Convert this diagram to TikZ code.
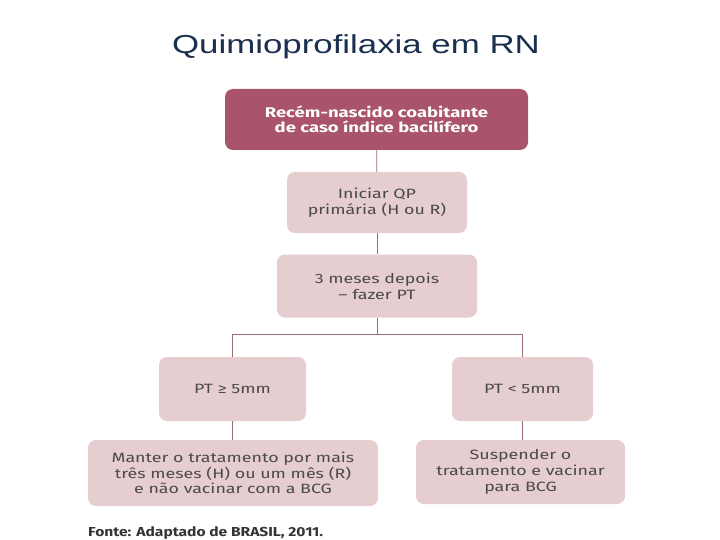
\documentclass[tikz,border=0pt]{standalone}
\usepackage{fontspec}
\setmainfont{Fira Sans}
\newfontfamily\titlefont[FakeStretch=1.34]{Liberation Sans}
\newfontfamily\boxfont[FakeStretch=1.32]{Fira Sans}
\newfontfamily\srcfont[FakeStretch=1.2]{Fira Sans}
\definecolor{darkrose}{HTML}{A9546A}
\definecolor{lightrose}{HTML}{E6CDD0}
\definecolor{linec}{HTML}{9C6B78}
\definecolor{textc}{HTML}{4A4A4A}
\definecolor{titlec}{HTML}{1B2F4F}
\begin{document}
\begin{tikzpicture}[x=1pt,y=-1pt,
  box/.style={draw=none,fill=lightrose,rounded corners=8pt,align=center,inner sep=0pt,
     text=textc,font=\boxfont\fontsize{13.5}{15.8}\selectfont},
  topbox/.style={box,fill=darkrose,text=white,font=\boxfont\fontsize{14}{15}\selectfont\bfseries},
  conn/.style={draw=linec,line width=0.8pt}]
\useasboundingbox (0,0) rectangle (720,540);
\node[font=\titlefont\fontsize{26}{30}\selectfont,text=titlec] (title) at (356,47) {Quimioprofilaxia em RN};
\node[topbox,minimum width=303pt,minimum height=61pt] (b1) at (376.5,119.5) {Recém-nascido coabitante\\de caso índice bacilífero};
\node[box,minimum width=180pt,minimum height=61pt] (b2) at (377,202.5) {Iniciar QP\\primária (H ou R)};
\node[box,minimum width=200pt,minimum height=63pt] (b3) at (377,286) {3 meses depois\\– fazer PT};
\node[box,minimum width=147pt,minimum height=64pt] (b4l) at (232.5,389) {PT ≥ 5mm};
\node[box,minimum width=141pt,minimum height=64pt] (b4r) at (522.5,389) {PT < 5mm};
\node[box,minimum width=290pt,minimum height=66pt] (b5l) at (233,473) {Manter o tratamento por mais\\três meses (H) ou um mês (R)\\e não vacinar com a BCG};
\node[box,minimum width=209pt,minimum height=64pt] (b5r) at (520.5,472) {Suspender o\\tratamento e vacinar\\para BCG};
\node[anchor=west,font=\srcfont\fontsize{13}{15}\selectfont\bfseries,text=textc!70!black,inner sep=0pt] (src) at (88,533) {Fonte: Adaptado de BRASIL, 2011.};
\coordinate (hj) at (377,334);
\coordinate (hl) at (232.5,334);
\coordinate (hr) at (522.5,334);
\draw[conn] (b1) -- (b2);
\draw[conn] (b2) -- (b3);
\draw[conn] (b3) -- (hj);
\draw[conn] (hl) -- (hr);
\draw[conn] (hl) -- (b4l);
\draw[conn] (hr) -- (b4r);
\draw[conn] (b4l) -- (b5l.north -| b4l);
\draw[conn] (b4r) -- (b5r.north -| b4r);
\end{tikzpicture}
\end{document}
